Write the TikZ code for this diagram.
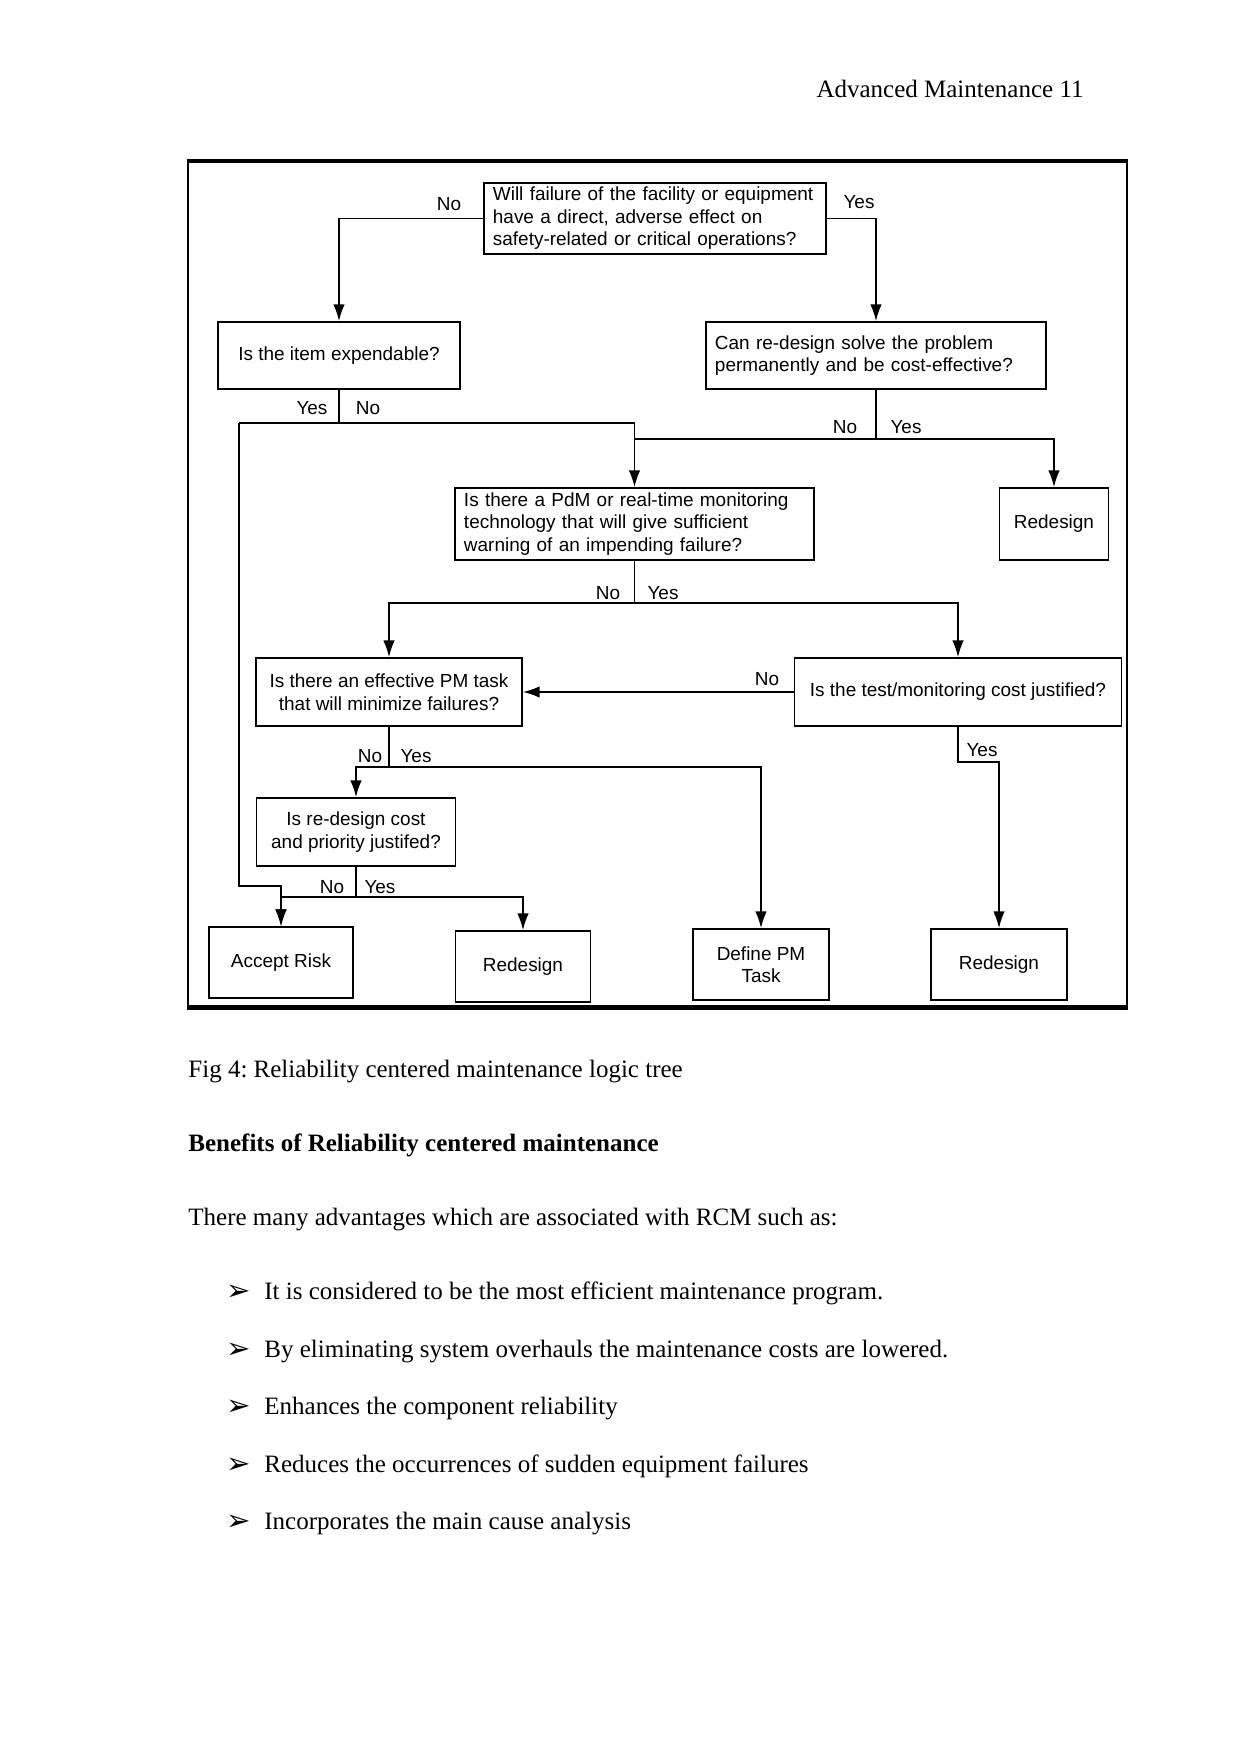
\documentclass[tikz,border=0pt]{standalone}
\usepackage{fontspec}
\setmainfont{Liberation Serif}
\newfontfamily\diafont{Liberation Sans}
\newfontfamily\symfont{DejaVu Sans}
\usetikzlibrary{arrows.meta}
\frenchspacing
\begin{document}
\begin{tikzpicture}[x=0.48pt,y=-0.48pt,
 box/.style={draw, line width=0.9pt, inner xsep=4.3pt, inner ysep=2pt, font=\diafont\fontsize{9.1}{10.8}\selectfont},
 lab/.style={inner sep=0pt, font=\diafont\fontsize{9.1}{10.8}\selectfont},
 arr/.style={line width=0.7pt, -{Latex[length=8pt,width=5.5pt]}},
 ln/.style={line width=0.7pt},
 body/.style={anchor=base west, inner sep=0pt, font=\fontsize{12}{14}\selectfont},
 bul/.style={anchor=base west, inner sep=0pt, font=\symfont\fontsize{14}{16}\selectfont}
]
\useasboundingbox[fill=white] (0,0) rectangle (1241,1754);

% frame
\draw[line width=1pt] (188,161) rectangle (1127,1007);
\draw[line width=2pt] (187,161) -- (1128,161);
\draw[line width=2.4pt] (187,1007) -- (1128,1007);
\draw[line width=1.4pt] (1127,161) -- (1127,1007);

% boxes
\node[box, text width=155.6pt, align=left, minimum height=34.1pt] (q1) at (655,218.5)
 {Will failure of the facility or equipment\\have a direct, adverse effect on\\safety-related or critical operations?};
\node[box, minimum width=116.2pt, align=center, minimum height=32.2pt] (exp) at (339,355.5) {Is the item expendable?};
\node[box, text width=154.6pt, align=left, minimum height=32.2pt] (can) at (876,355.5)
 {Can re-design solve the problem\\permanently and be cost-effective?};
\node[box, text width=163.7pt, align=left, minimum height=34.6pt] (pdm) at (634.5,524)
 {Is there a PdM or real-time monitoring\\technology that will give sufficient\\warning of an impending failure?};
\node[box, minimum width=52.3pt, minimum height=34.6pt] (red1) at (1054,524) {Redesign};
\node[box, minimum width=127.7pt, minimum height=32.6pt, align=center] (pm) at (389,692)
 {Is there an effective PM task\\that will minimize failures?};
\node[box, minimum width=157pt, minimum height=32.6pt] (test) at (958,692) {Is the test/monitoring cost justified?};
\node[box, minimum width=95.5pt, minimum height=32.6pt, align=center] (rdc) at (356,832)
 {Is re-design cost\\and priority justifed?};
\node[box, minimum width=69.1pt, minimum height=34.1pt] (acc) at (281,962.5) {Accept Risk};
\node[box, minimum width=64.8pt, minimum height=34.1pt] (red2) at (523,966.5) {Redesign};
\node[box, minimum width=65.3pt, minimum height=34.1pt, align=center] (def) at (761,964.5) {Define PM\\Task};
\node[box, minimum width=65.3pt, minimum height=34.1pt] (red3) at (999,964.5) {Redesign};

% junctions
\coordinate (a1) at (239,423);
\coordinate (a2) at (634.5,423);
\coordinate (a3) at (239,886);
\coordinate (b1) at (876,439);
\coordinate (b2) at (634.5,439);
\coordinate (c1) at (634.5,603);
\coordinate (d1) at (389,767);
\coordinate (e1) at (356,897);
\coordinate (f1) at (958,762);

% connectors
\draw[arr] (q1.west) -| (exp.north);
\draw[arr] (q1.east) -| (can.north);
\draw[ln] (exp.south) -- (exp.south |- a1);
\draw[ln] (a1) -- (a2);
\draw[arr] (a2) -- (pdm.north);
\draw[arr] (a1) -- (a3) -| (acc.north);
\draw[ln] (can.south) -- (b1);
\draw[ln] (b1) -- (b2);
\draw[arr] (b1) -| (red1.north);
\draw[ln] (pdm.south) -- (c1);
\draw[arr] (c1) -| (pm.north);
\draw[arr] (c1) -| (test.north);
\draw[arr] (test.west) -- (pm.east);
\draw[ln] (pm.south) -- (d1);
\draw[arr] (d1) -| (rdc.north);
\draw[arr] (d1) -| (def.north);
\draw[ln] (rdc.south) -- (e1);
\draw[arr] (e1) -| (acc.north);
\draw[arr] (e1) -| (red2.north);
\draw[arr] (test.south) -- (f1) -| (red3.north);

% labels
\node[lab] (l1) at (449,204) {No};
\node[lab] (l2) at (859,202) {Yes};
\node[lab] (l3) at (312,408) {Yes};
\node[lab] (l4) at (368,408) {No};
\node[lab] (l5) at (845,427) {No};
\node[lab] (l6) at (906,427) {Yes};
\node[lab] (l7) at (608,593) {No};
\node[lab] (l8) at (663,593) {Yes};
\node[lab] (l9) at (767,679) {No};
\node[lab] (l10) at (370,756) {No};
\node[lab] (l11) at (416,756) {Yes};
\node[lab] (l12) at (332,887) {No};
\node[lab] (l13) at (380,887) {Yes};
\node[lab] (l14) at (982,750) {Yes};

% page text
\node[body, anchor=base east] (hdr) at (1084,97) {Advanced Maintenance 11};
\node[body] (cap) at (188,1077) {Fig 4: Reliability centered maintenance logic tree};
\node[body, font=\bfseries\fontsize{12}{14}\selectfont] (hd) at (188,1151) {Benefits of Reliability centered maintenance};
\node[body] (intro) at (188,1225) {There many advantages which are associated with RCM such as:};

\node[bul] (b1s) at (226,1300) {➢};
\node[body] (t1) at (264,1299) {It is considered to be the most efficient maintenance program.};
\node[bul] (b2s) at (226,1358) {➢};
\node[body] (t2) at (264,1357) {By eliminating system overhauls the maintenance costs are lowered.};
\node[bul] (b3s) at (226,1415) {➢};
\node[body] (t3) at (264,1414) {Enhances the component reliability};
\node[bul] (b4s) at (226,1473) {➢};
\node[body] (t4) at (264,1472) {Reduces the occurrences of sudden equipment failures};
\node[bul] (b5s) at (226,1530) {➢};
\node[body] (t5) at (264,1529) {Incorporates the main cause analysis};
\end{tikzpicture}
\end{document}
